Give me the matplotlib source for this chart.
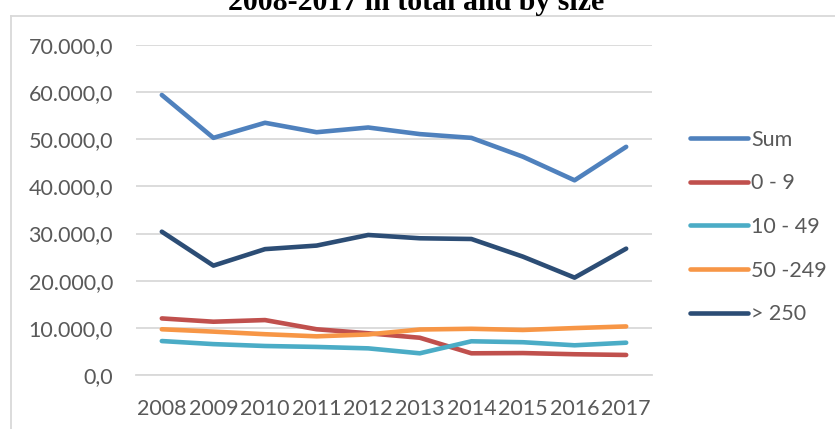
import matplotlib
matplotlib.use("Agg")
import matplotlib.pyplot as plt
from matplotlib.lines import Line2D
from matplotlib.ticker import FuncFormatter, MultipleLocator

years = ["2008", "2009", "2010", "2011", "2012", "2013", "2014", "2015", "2016", "2017"]
sum_total = [59400, 50300, 53500, 51500, 52500, 51100, 50300, 46300, 41300, 48400]
size_0_9 = [12000, 11300, 11650, 9700, 8850, 7900, 4600, 4650, 4400, 4250]
size_10_49 = [7200, 6550, 6150, 5950, 5650, 4600, 7150, 6950, 6300, 6850]
size_50_249 = [9700, 9200, 8650, 8200, 8600, 9650, 9800, 9550, 9950, 10300]
size_250 = [30400, 23200, 26700, 27450, 29700, 29000, 28850, 25100, 20650, 26800]

series = [
    ("Sum", sum_total, "#4F81BD"),
    ("0 - 9", size_0_9, "#C0504D"),
    ("10 - 49", size_10_49, "#4BACC6"),
    ("50 -249", size_50_249, "#F79646"),
    ("> 250", size_250, "#2C4D75"),
]

plt.rcParams['font.family'] = ['Lato', 'DejaVu Sans']
txt_color = "#595959"
grid_color = "#D9D9D9"

fig = plt.figure(figsize=(8.35, 4.29), dpi=100)
ax = fig.add_axes([0.1629, 0.1259, 0.6179, 0.7692])

for name, vals, col in series:
    ax.plot(years, vals, color=col, lw=3.3, label=name,
            solid_capstyle='round', solid_joinstyle='round')

ax.set_xlim(-0.5, 9.5)
ax.set_ylim(0, 70000)
ax.yaxis.set_major_locator(MultipleLocator(10000))

def de_fmt(v, pos):
    s = f"{v:,.1f}"
    return s.replace(",", "X").replace(".", ",").replace("X", ".")

ax.yaxis.set_major_formatter(FuncFormatter(de_fmt))
ax.grid(axis='y', color=grid_color, lw=1.3)
ax.set_axisbelow(True)
for sp in ["top", "right", "left"]:
    ax.spines[sp].set_visible(False)
ax.spines["bottom"].set_color(grid_color)
ax.spines["bottom"].set_linewidth(1.3)
ax.tick_params(axis='both', length=0, labelsize=15.5, colors=txt_color)
ax.tick_params(axis='y', pad=16.5)
ax.tick_params(axis='x', pad=17)

leg = fig.legend(loc='center left', bbox_to_anchor=(0.826, 0.471),
                 frameon=False, fontsize=15.5, handlelength=2.7,
                 handletextpad=0.15, labelspacing=1.1, borderpad=0,
                 borderaxespad=0)
for t in leg.get_texts():
    t.set_color(txt_color)

# chart border (clipped at the top/left of the frame)
fig.add_artist(Line2D([11 / 835, 1.0], [1 - 16 / 429, 1 - 16 / 429], color=grid_color, lw=1.3))
fig.add_artist(Line2D([11 / 835, 11 / 835], [0.0, 1 - 16 / 429], color=grid_color, lw=1.3))

# title, cut off at the top edge as in the source
fig.text(0.498, 1 - 10.5 / 429, "2008-2017 in total and by size", ha='center', va='baseline',
         fontsize=21.5, fontweight='bold', family=['Liberation Serif', 'DejaVu Serif'])

fig.savefig("out.png", dpi=100)
